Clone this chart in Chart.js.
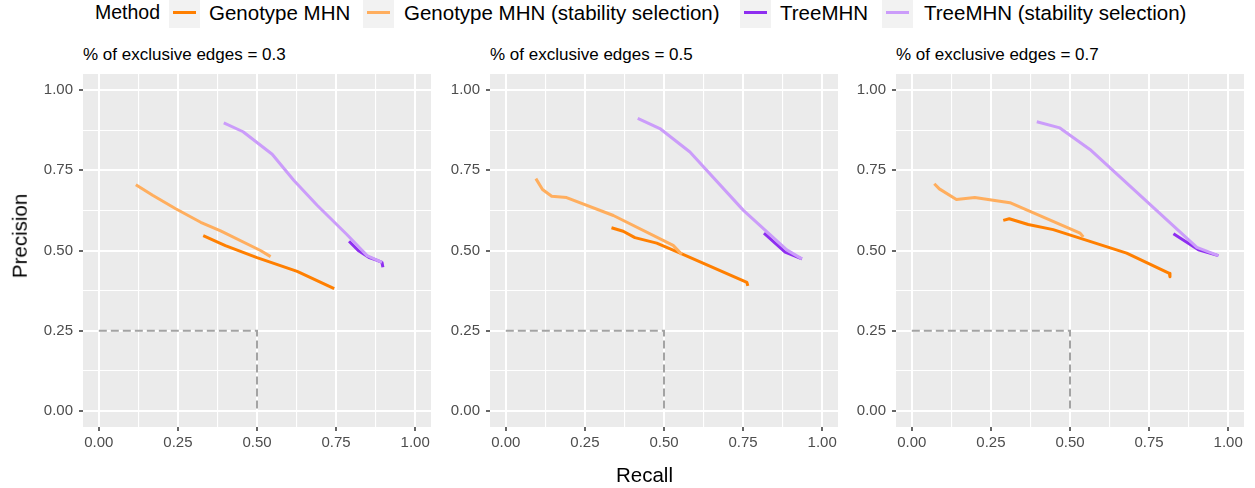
<!DOCTYPE html>
<html lang="en">
<head>
    <meta charset="UTF-8">
    <title>Precision vs Recall</title>
    <style>
        body {
            margin: 0;
            width: 1255px;
            height: 488px;
            overflow: hidden;
            background: #fff;
            font-family: "Liberation Sans", Arial, sans-serif;
            position: relative;
        }
        .abs {
            position: absolute;
            white-space: nowrap;
            line-height: 1;
        }
        .legend-title { font-size: 19.5px; color: #000; top: 3px; }
        .legend-label { font-size: 20.5px; color: #000; top: 3px; }
        .key {
            position: absolute;
            top: 0;
            width: 31px;
            height: 28px;
            background: #f2f2f2;
        }
        .key span {
            position: absolute;
            left: 4px;
            right: 4px;
            top: 11px;
            height: 3px;
        }
        .panel-title { font-size: 17px; color: #000; top: 46px; }
        .axis-title { font-size: 20.5px; color: #000; }
        canvas { position: absolute; top: 50px; }
    </style>
    <script src="https://cdn.jsdelivr.net/npm/chart.js"></script>
</head>
<body>
    <div class="abs legend-title" style="left:95px">Method</div>
    <div class="key" style="left:169px"><span style="background:#FF7F00"></span></div>
    <div class="abs legend-label" style="left:209px">Genotype MHN</div>
    <div class="key" style="left:363px"><span style="background:#FFAE5E"></span></div>
    <div class="abs legend-label" style="left:404px">Genotype MHN (stability selection)</div>
    <div class="key" style="left:740px"><span style="background:#8E2EF0"></span></div>
    <div class="abs legend-label" style="left:780px">TreeMHN</div>
    <div class="key" style="left:882px"><span style="background:#CB9CFA"></span></div>
    <div class="abs legend-label" style="left:924px">TreeMHN (stability selection)</div>

    <div class="abs panel-title" style="left:83px">% of exclusive edges = 0.3</div>
    <div class="abs panel-title" style="left:490px">% of exclusive edges = 0.5</div>
    <div class="abs panel-title" style="left:896px">% of exclusive edges = 0.7</div>

    <canvas id="chart03" width="414" height="413" style="left:23px"></canvas>
    <canvas id="chart05" width="414" height="413" style="left:430px"></canvas>
    <canvas id="chart07" width="414" height="413" style="left:836px"></canvas>

    <div class="abs axis-title" style="left:616px; top:465px">Recall</div>
    <div class="abs axis-title" style="left:20px; top:236px; transform: translate(-50%, -50%) rotate(-90deg)">Precision</div>

    <script>
        // axis ticks (major + minor grid positions)
        const tickValues = [0, 0.125, 0.25, 0.375, 0.5, 0.625, 0.75, 0.875, 1];

        // reference box (dashed)
        const refRecall = [0, 0.5, 0.5];
        const refPrecision = [0.25, 0.25, 0];

        // % exclusive edges = 0.3
        const genoRecall03 = [0.330, 0.40, 0.50, 0.627, 0.744];
        const genoPrec03 = [0.546, 0.515, 0.478, 0.435, 0.381];
        const genoStabRecall03 = [0.117, 0.17, 0.243, 0.322, 0.385, 0.511, 0.543];
        const genoStabPrec03 = [0.705, 0.672, 0.630, 0.588, 0.561, 0.500, 0.481];
        const treeRecall03 = [0.791, 0.82, 0.853, 0.880, 0.895, 0.898];
        const treePrec03 = [0.529, 0.500, 0.479, 0.469, 0.463, 0.448];
        const treeStabRecall03 = [0.395, 0.456, 0.548, 0.616, 0.690, 0.784, 0.848, 0.895];
        const treeStabPrec03 = [0.898, 0.870, 0.800, 0.719, 0.641, 0.550, 0.484, 0.463];

        // % exclusive edges = 0.5
        const genoRecall05 = [0.334, 0.371, 0.408, 0.477, 0.551, 0.762, 0.765];
        const genoPrec05 = [0.571, 0.560, 0.540, 0.523, 0.492, 0.401, 0.390];
        const genoStabRecall05 = [0.095, 0.116, 0.145, 0.192, 0.340, 0.529, 0.556];
        const genoStabPrec05 = [0.724, 0.690, 0.669, 0.665, 0.609, 0.516, 0.488];
        const treeRecall05 = [0.816, 0.883, 0.936];
        const treePrec05 = [0.554, 0.495, 0.474];
        const treeStabRecall05 = [0.417, 0.487, 0.582, 0.751, 0.888, 0.936];
        const treeStabPrec05 = [0.912, 0.880, 0.807, 0.625, 0.502, 0.474];

        // % exclusive edges = 0.7
        const genoRecall07 = [0.289, 0.308, 0.368, 0.447, 0.679, 0.814, 0.816];
        const genoPrec07 = [0.594, 0.599, 0.581, 0.565, 0.492, 0.429, 0.418];
        const genoStabRecall07 = [0.071, 0.087, 0.141, 0.199, 0.310, 0.532, 0.542];
        const genoStabPrec07 = [0.708, 0.692, 0.659, 0.665, 0.649, 0.554, 0.542];
        const treeRecall07 = [0.827, 0.906, 0.969];
        const treePrec07 = [0.552, 0.502, 0.484];
        const treeStabRecall07 = [0.395, 0.468, 0.563, 0.901, 0.969];
        const treeStabPrec07 = [0.901, 0.882, 0.815, 0.510, 0.484];

        const FONT = '"Liberation Sans", Arial, sans-serif';

        function toPoints(xs, ys) {
            return xs.map((x, i) => ({ x: x, y: ys[i] }));
        }

        function isMajor(v) {
            return Math.abs(v * 4 - Math.round(v * 4)) < 1e-9;
        }

        const panelBg = {
            id: 'panelBg',
            beforeDraw(chart) {
                const { ctx, chartArea: a } = chart;
                ctx.save();
                ctx.fillStyle = '#EBEBEB';
                ctx.fillRect(a.left, a.top, a.right - a.left, a.bottom - a.top);
                ctx.restore();
            }
        };

        function axisOptions(isX) {
            return {
                type: 'linear',
                min: -0.05,
                max: 1.05,
                afterBuildTicks: s => { s.ticks = tickValues.map(v => ({ value: v })); },
                afterFit: s => { if (isX) s.height = 36; else s.width = 60; },
                border: { display: false },
                grid: {
                    color: '#FFFFFF',
                    lineWidth: c => isMajor(c.tick.value) ? 2 : 1.1,
                    tickColor: c => isMajor(c.tick.value) ? '#333333' : 'rgba(0,0,0,0)',
                    tickLength: 4,
                    tickWidth: 1.5
                },
                ticks: {
                    color: '#4D4D4D',
                    font: { family: FONT, size: 15 },
                    padding: isX ? 3 : 6,
                    autoSkip: false,
                    maxRotation: 0,
                    callback: v => isMajor(v) ? v.toFixed(2) : ''
                }
            };
        }

        function series(label, xs, ys, color, order) {
            return {
                label: label,
                data: toPoints(xs, ys),
                borderColor: color,
                borderWidth: 3,
                borderCapStyle: 'butt',
                borderJoinStyle: 'round',
                pointRadius: 0,
                tension: 0,
                fill: false,
                order: order
            };
        }

        function plotPanel(id, geno, genoStab, tree, treeStab) {
            new Chart(document.getElementById(id), {
                type: 'line',
                data: {
                    datasets: [
                        series('TreeMHN (stability selection)', treeStab[0], treeStab[1], '#CB9CFA', 1),
                        series('TreeMHN', tree[0], tree[1], '#8E2EF0', 2),
                        series('Genotype MHN (stability selection)', genoStab[0], genoStab[1], '#FFAE5E', 3),
                        series('Genotype MHN', geno[0], geno[1], '#FF7F00', 4),
                        {
                            label: 'reference',
                            data: toPoints(refRecall, refPrecision),
                            borderColor: '#A3A3A3',
                            borderWidth: 2,
                            borderDash: [8, 4],
                            pointRadius: 0,
                            tension: 0,
                            fill: false,
                            order: 5
                        }
                    ]
                },
                options: {
                    responsive: false,
                    animation: false,
                    layout: { padding: { top: 24, right: 6, bottom: 0, left: 0 } },
                    plugins: {
                        legend: { display: false },
                        tooltip: { enabled: false }
                    },
                    scales: {
                        x: axisOptions(true),
                        y: axisOptions(false)
                    }
                },
                plugins: [panelBg]
            });
        }

        plotPanel('chart03',
            [genoRecall03, genoPrec03], [genoStabRecall03, genoStabPrec03],
            [treeRecall03, treePrec03], [treeStabRecall03, treeStabPrec03]);
        plotPanel('chart05',
            [genoRecall05, genoPrec05], [genoStabRecall05, genoStabPrec05],
            [treeRecall05, treePrec05], [treeStabRecall05, treeStabPrec05]);
        plotPanel('chart07',
            [genoRecall07, genoPrec07], [genoStabRecall07, genoStabPrec07],
            [treeRecall07, treePrec07], [treeStabRecall07, treeStabPrec07]);
    </script>
</body>
</html>
